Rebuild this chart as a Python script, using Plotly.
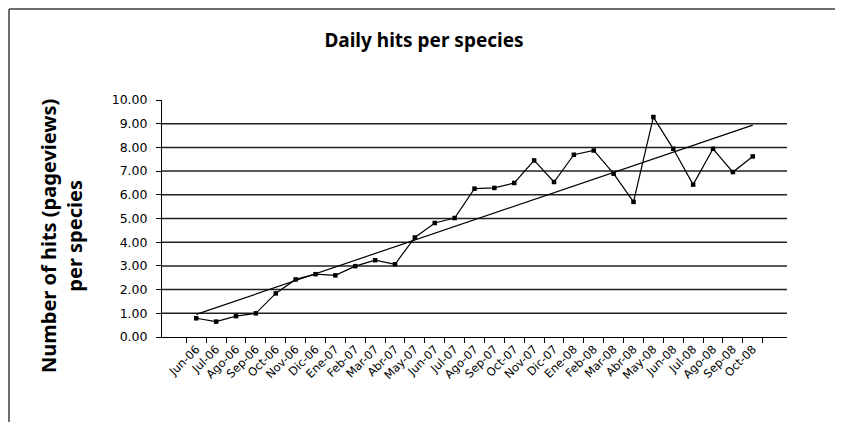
import numpy as np
import plotly.graph_objects as go

months = ["Jun-06", "Jul-06", "Ago-06", "Sep-06", "Oct-06", "Nov-06", "Dic-06",
          "Ene-07", "Feb-07", "Mar-07", "Abr-07", "May-07", "Jun-07", "Jul-07",
          "Ago-07", "Sep-07", "Oct-07", "Nov-07", "Dic-07", "Ene-08", "Feb-08",
          "Mar-08", "Abr-08", "May-08", "Jun-08", "Jul-08", "Ago-08", "Sep-08", "Oct-08"]
hits = [0.79, 0.65, 0.88, 1.00, 1.84, 2.43, 2.65, 2.60, 2.99, 3.24, 3.07, 4.20,
        4.81, 5.02, 6.26, 6.29, 6.50, 7.45, 6.54, 7.69, 7.87, 6.89, 5.70, 9.28,
        7.94, 6.43, 7.94, 6.96, 7.62]
y_ticks = [0, 1, 2, 3, 4, 5, 6, 7, 8, 9, 10]
y_tick_text = ["%.2f" % v for v in y_ticks]

# linear trendline (least squares), as in the spreadsheet chart
idx = np.arange(1, len(hits) + 1)
slope, intercept = np.polyfit(idx, hits, 1)
trend = list(slope * idx + intercept)

# the page body has an 8px margin, so the figure is offset by 8px
W, H = 835, 414
L, R, T, B = 154, 56, 92, 85
pw, ph = W - L - R, H - T - B

fig = go.Figure()
fig.add_trace(go.Scatter(x=months, y=trend, mode="lines",
                         line=dict(color="black", width=1.2), showlegend=False))
fig.add_trace(go.Scatter(x=months, y=hits, mode="lines+markers",
                         line=dict(color="black", width=1.2),
                         marker=dict(symbol="square", size=4.5, color="black"),
                         showlegend=False))

shapes = []
for g in y_ticks[1:-1]:
    shapes.append(dict(type="line", xref="paper", yref="y", x0=0, x1=1, y0=g, y1=g,
                       line=dict(color="#222222", width=1.5), layer="below"))
# chart-area frame (top and left edges visible)
fx = (1 - L) / pw
fy = (H - B - 1) / ph
fx_end = (W + 20 - L) / pw
fy_end = -(B + 20) / ph
shapes.append(dict(type="line", xref="paper", yref="paper", x0=fx, x1=fx_end, y0=fy, y1=fy,
                   line=dict(color="#6e6e6e", width=2)))
shapes.append(dict(type="line", xref="paper", yref="paper", x0=fx, x1=fx, y0=fy, y1=fy_end,
                   line=dict(color="#6e6e6e", width=2)))

fig.update_layout(
    width=W, height=H,
    margin=dict(l=L, r=R, t=T, b=B),
    paper_bgcolor="white", plot_bgcolor="white",
    font=dict(family="DejaVu Sans", color="black"),
    title=dict(text="<b>Daily hits per species</b>", x=416 / W, xref="container",
               xanchor="center", y=1 - 32 / H, yref="container", yanchor="middle",
               font=dict(family="Noto Sans", size=19, color="black")),
    xaxis=dict(type="category", showgrid=False, showline=True, linecolor="black",
               linewidth=1, ticks="outside", ticklen=5, tickcolor="black",
               tickson="boundaries", tickangle=-45,
               tickfont=dict(family="DejaVu Sans", size=11.5, color="black"),
               zeroline=False),
    yaxis=dict(range=[0, 10], tickvals=y_ticks, ticktext=y_tick_text,
               showgrid=False, showline=True, linecolor="black", linewidth=1,
               ticks="outside", ticklen=5, tickcolor="black", zeroline=False,
               ticklabelstandoff=6,
               tickfont=dict(family="DejaVu Sans", size=12.5, color="black")),
    shapes=shapes,
    annotations=[dict(text="<b>Number of hits (pageviews)<br>per species</b>",
                      xref="paper", yref="paper", x=(53 - L) / pw, y=(H - B - 228) / ph,
                      xanchor="center", yanchor="middle", textangle=-90, showarrow=False,
                      font=dict(family="Noto Sans", size=20, color="black"))],
)

fig.write_html("out.html", config={"displayModeBar": False})
